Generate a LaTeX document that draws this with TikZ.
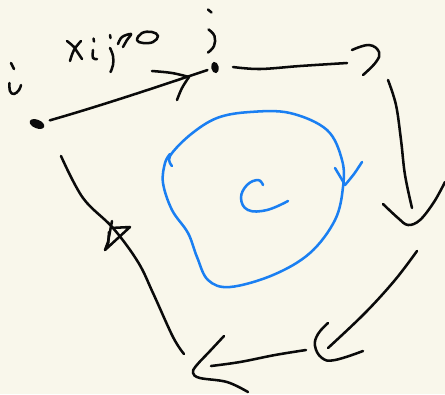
\documentclass[tikz,border=0pt]{standalone}
\definecolor{paper}{HTML}{F9F7EB}
\definecolor{pen}{HTML}{0A0A0A}
\definecolor{bluepen}{HTML}{1A7FF2}
\begin{document}
\begin{tikzpicture}[x=0.75pt,y=-0.75pt,
  ink/.style={draw=pen,line width=1.9pt,line cap=round,line join=round},
  blueink/.style={draw=bluepen,line width=1.9pt,line cap=round,line join=round}]
\fill[paper] (0,0) rectangle (445,394);
\useasboundingbox (0,0) rectangle (445,394);

% vertices
\coordinate (i) at (37,124);
\coordinate (j) at (215,67.5);
\fill[pen,rotate around={-22:(i)}] (i) ellipse [x radius=5.8pt, y radius=3.2pt];
\fill[pen,rotate around={12:(j)}] (j) ellipse [x radius=2.8pt, y radius=4.3pt];

% edge i -> j
\draw[ink,shorten <=10pt,shorten >=6pt] (i) .. controls (100,106) and (160,86) .. (j);
\draw[ink] plot[smooth,tension=0.6] coordinates {(152,71) (172,73) (189,77)};
\draw[ink] plot[smooth,tension=0.6] coordinates {(189,77) (182,88) (177,100)};

% labels i, j
\draw[ink] (11,63) -- (14,69);
\draw[ink] plot[smooth,tension=0.7] coordinates {(9.5,83) (10,91) (14,94) (19,90) (21,85)};
\draw[ink] (208,9.5) -- (211.5,12.5);
\draw[ink] plot[smooth,tension=0.7] coordinates {(208.5,29.5) (214.5,36) (214,46) (208,52.5)};

% label X_ij > 0
\draw[ink] plot[smooth,tension=0.7] coordinates {(67,41) (74,47) (78,53) (82,59)};
\draw[ink] plot[smooth,tension=0.7] coordinates {(81,41) (74,50) (70,61)};
\draw[ink] (93.5,38.5) -- (94,41.5);
\draw[ink] plot[smooth,tension=0.7] coordinates {(93,50) (93,58) (97,59)};
\draw[ink] (110,35) -- (110.5,38);
\draw[ink] plot[smooth,tension=0.7] coordinates {(110,48) (113,56) (113,65) (110.5,72)};
\draw[ink] plot[smooth,tension=0.6] coordinates {(118,44) (122,37) (131,34) (127,40) (123,47)};
\draw[ink] plot[smooth cycle,tension=0.7] coordinates {(137,40) (142,33) (152,32) (158,36) (153,42) (143,43)};

% top edge
\draw[ink] plot[smooth,tension=0.6] coordinates {(233,67) (260,69) (300,66) (347,63)};
\draw[ink] plot[smooth,tension=0.7] coordinates {(352,50) (369,45) (379,52) (376,62) (363,75)};

% right edge
\draw[ink] plot[smooth,tension=0.6] coordinates {(388,80) (396,105) (401,140) (405,175) (412,208)};
\draw[ink] plot[smooth,tension=0.6] coordinates {(383,204) (398,218) (408,225) (420,220) (434,202) (445,182)};

% lower right edge
\draw[ink] plot[smooth,tension=0.6] coordinates {(417,251) (395,280) (365,313) (328,348)};
\draw[ink] plot[smooth,tension=0.7] coordinates {(328,323) (318,334) (315,346) (322,358) (335,360) (363,351)};

% bottom edge
\draw[ink] plot[smooth,tension=0.6] coordinates {(306,350) (275,355) (240,362) (211,366)};
\draw[ink] plot[smooth,tension=0.6] coordinates {(224,336) (210,351) (196,366) (193,373) (200,378) (227,382) (248,392)};

% left edge
\draw[ink] plot[smooth,tension=0.6] coordinates {(61,156) (83,198) (113,228) (138,262) (153,293) (173,337) (184,354)};
\draw[ink] (112,221) -- (108,242) -- (105,250) -- (130,227) -- (111,228);
\draw[ink] (109,232) -- (108,246);

% blue circulation
\draw[blueink] plot[smooth,tension=0.6] coordinates {(172,166) (170,156) (190,135) (217,118) (250,112) (290,113) (327,130) (342,160) (343,187) (335,220) (310,253) (273,275) (230,287) (208,280) (197,257) (188,233) (172,210) (163,183) (165,163) (170,154)};
\draw[blueink] plot[smooth,tension=0.5] coordinates {(335,168) (341,178) (345,185)};
\draw[blueink] plot[smooth,tension=0.5] coordinates {(345,185) (354,174) (362,162)};
\draw[blueink] plot[smooth,tension=0.7] coordinates {(263,185) (258,180) (247,185) (241,198) (248,210) (267,210) (288,201)};
\end{tikzpicture}
\end{document}
